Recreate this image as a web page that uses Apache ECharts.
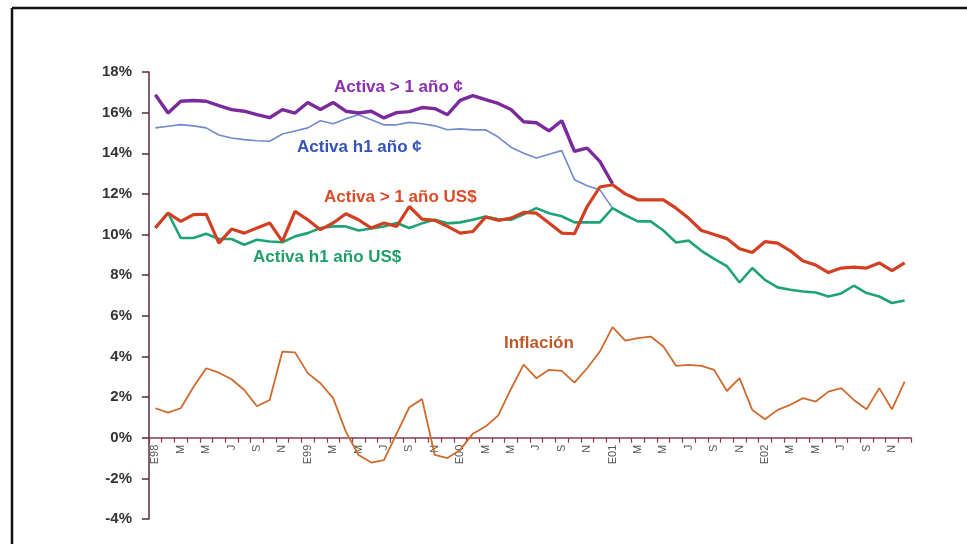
<!DOCTYPE html>
<html>
<head>
<meta charset="utf-8">
<script src="https://cdn.jsdelivr.net/npm/echarts@6/dist/echarts.min.js"></script>
<style>
html,body{margin:0;padding:0;background:#fff;}
#chart{width:967px;height:544px;}
</style>
</head>
<body>
<div id="chart"></div>
<script>
// Monthly categories Jan 1998 - Dec 2002
const months = ['E98','F','M','A','M','J','J','A','S','O','N','D',
                'E99','F','M','A','M','J','J','A','S','O','N','D',
                'E00','F','M','A','M','J','J','A','S','O','N','D',
                'E01','F','M','A','M','J','J','A','S','O','N','D',
                'E02','F','M','A','M','J','J','A','S','O','N','D'];

const yTicks = [-4,-2,0,2,4,6,8,10,12,14,16,18];

const activaMas1Col = [16.88,15.98,16.56,16.6,16.56,16.35,16.15,16.07,15.9,15.75,16.15,15.98,
                       16.5,16.15,16.5,16.07,15.98,16.07,15.74,16.0,16.05,16.25,16.2,15.9,
                       16.6,16.84,16.64,16.45,16.15,15.55,15.5,15.1,15.6,14.1,14.25,13.6,
                       12.5];

const activaH1Col = [15.25,15.33,15.41,15.35,15.25,14.9,14.75,14.67,14.62,14.59,14.95,15.1,
                     15.25,15.6,15.45,15.7,15.9,15.65,15.4,15.4,15.52,15.45,15.35,15.16,
                     15.2,15.15,15.16,14.8,14.3,14.0,13.77,13.95,14.13,12.7,12.4,12.2,
                     11.3];

const activaMas1USD = [10.32,11.06,10.65,10.98,11.0,9.58,10.27,10.07,10.32,10.57,9.66,11.14,
                       10.73,10.24,10.57,11.02,10.73,10.32,10.57,10.4,11.38,10.76,10.7,10.4,
                       10.07,10.15,10.86,10.7,10.81,11.09,11.05,10.57,10.07,10.04,11.38,12.34,
                       12.45,12.0,11.71,11.71,11.71,11.3,10.8,10.2,10.0,9.8,9.3,9.12,
                       9.65,9.58,9.2,8.7,8.5,8.13,8.35,8.4,8.35,8.6,8.23,8.6];

const activaH1USD = [10.35,11.06,9.83,9.83,10.04,9.78,9.78,9.5,9.74,9.66,9.62,9.91,
                     10.07,10.32,10.4,10.4,10.2,10.3,10.4,10.57,10.32,10.55,10.73,10.55,
                     10.6,10.73,10.89,10.75,10.73,11.0,11.3,11.05,10.9,10.6,10.6,10.6,
                     11.3,10.95,10.65,10.65,10.2,9.61,9.7,9.2,8.8,8.45,7.64,8.35,
                     7.77,7.4,7.28,7.2,7.15,6.95,7.1,7.48,7.12,6.95,6.63,6.75];

const inflacion = [1.45,1.24,1.45,2.5,3.42,3.2,2.88,2.35,1.55,1.86,4.24,4.2,
                   3.18,2.68,1.95,0.3,-0.85,-1.22,-1.1,0.2,1.5,1.9,-0.85,-1.0,
                   -0.6,0.2,0.55,1.1,2.4,3.6,2.93,3.34,3.29,2.71,3.42,4.24,
                   5.44,4.78,4.9,4.98,4.49,3.54,3.59,3.54,3.34,2.3,2.93,1.37,
                   0.91,1.37,1.62,1.95,1.78,2.27,2.44,1.86,1.4,2.44,1.4,2.76];

const seriesNames = ['Activa > 1 año ¢','Activa h1 año ¢','Activa > 1 año US$','Activa h1 año US$','Inflación'];

const chart = echarts.init(document.getElementById('chart'));
const FONT = '"Liberation Sans", Arial, sans-serif';

const gridTop = 72, gridBottom = 25, yMin = -4, yMax = 18;
const plotH = 544 - gridTop - gridBottom;
// shift the category axis up from the grid bottom to the 0% line
const zeroOffset = -plotH * (0 - yMin) / (yMax - yMin);

function lbl(text, x, y, color) {
  return { type:'text', left:x, top:y, z:100,
    style:{ text:text, fill:color, font:'bold 17px ' + FONT } };
}

chart.setOption({
  animation:false,
  backgroundColor:'#fff',
  grid:{ left:149, right:56, top:gridTop, bottom:gridBottom },
  xAxis:{
    type:'category', data:months, boundaryGap:true, offset:zeroOffset,
    axisLine:{ onZero:false, lineStyle:{ color:'#8a3a52', width:1.5 } },
    axisTick:{ show:true, interval:0, length:5, lineStyle:{ color:'#8a3a52', width:1.2 } },
    axisLabel:{ interval:1, rotate:90, margin:7, fontSize:11, color:'#555', fontFamily:FONT }
  },
  yAxis:{
    type:'value', min:yMin, max:yMax, interval:2,
    axisLine:{ show:true, onZero:false, lineStyle:{ color:'#5a2a3c', width:1.5 } },
    axisTick:{ show:true, length:7, lineStyle:{ color:'#5a2a3c', width:1.5 } },
    splitLine:{ show:false },
    axisLabel:{ margin:17, fontSize:15, fontWeight:'bold', color:'#333', fontFamily:FONT,
      formatter:function(v){ return yTicks.indexOf(v) >= 0 ? v + '%' : ''; } }
  },
  series:[
    { name:seriesNames[1], type:'line', data:activaH1Col, symbol:'none',
      lineStyle:{ color:'#6f8bcc', width:1.6 }, z:2 },
    { name:seriesNames[3], type:'line', data:activaH1USD, symbol:'none',
      lineStyle:{ color:'#1ea374', width:2.6 }, z:3 },
    { name:seriesNames[0], type:'line', data:activaMas1Col, symbol:'none',
      lineStyle:{ color:'#7a2a9c', width:3.4 }, z:4 },
    { name:seriesNames[2], type:'line', data:activaMas1USD, symbol:'none',
      lineStyle:{ color:'#d23f22', width:3.2 }, z:5 },
    { name:seriesNames[4], type:'line', data:inflacion, symbol:'none',
      lineStyle:{ color:'#cf6a2e', width:1.8 }, z:6 }
  ],
  graphic:[
    { type:'line', shape:{ x1:12, y1:8, x2:967, y2:8 }, style:{ stroke:'#111', lineWidth:2.5 } },
    { type:'line', shape:{ x1:12, y1:8, x2:12, y2:544 }, style:{ stroke:'#111', lineWidth:2.5 } },
    lbl(seriesNames[0], 334, 79, '#8a2fb0'),
    lbl(seriesNames[1], 297, 139, '#3552b8'),
    lbl(seriesNames[2], 324, 189, '#dc4a26'),
    lbl(seriesNames[3], 253, 249, '#1e9e68'),
    lbl(seriesNames[4], 504, 335, '#c0582a')
  ]
});
</script>
</body>
</html>
